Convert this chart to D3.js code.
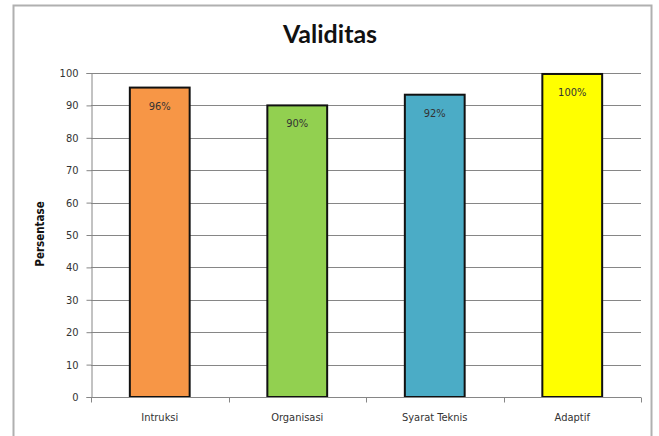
<!DOCTYPE html>
<html><head><meta charset="utf-8">
<script src="https://cdn.jsdelivr.net/npm/d3@7"></script>
<style>body{margin:0;background:#fff}svg{display:block}</style>
</head><body>
<script>
const categories = ["Intruksi", "Organisasi", "Syarat Teknis", "Adaptif"];
const values = [95.5, 90, 93.3, 99.7];
const valueLabels = ["96%", "90%", "92%", "100%"];
const yTicks = [0, 10, 20, 30, 40, 50, 60, 70, 80, 90, 100];
const colors = ["#F79646", "#92D050", "#4BACC6", "#FFFF00"];

const W = 659, H = 436;
const svg = d3.select("body").append("svg").attr("width", W).attr("height", H);
svg.append("rect").attr("x", 13.5).attr("y", 5.5).attr("width", 638).attr("height", 440)
  .attr("fill", "#fff").attr("stroke", "#b0b0b0").attr("stroke-width", 2);

const m = {left: 91, right: 641, top: 73, bottom: 397};
const x = d3.scaleBand().domain(categories).range([m.left, m.right]).paddingInner(0.565).paddingOuter(0.2825);
const xb = d3.scaleBand().domain(categories).range([m.left, m.right]);
const y = d3.scaleLinear().domain([0, 100]).range([m.bottom, m.top]);

// gridlines
svg.append("g").selectAll("line").data(yTicks.filter(d => d > 0)).join("line")
  .attr("x1", m.left).attr("x2", m.right)
  .attr("y1", d => Math.round(y(d)) + 0.5).attr("y2", d => Math.round(y(d)) + 0.5)
  .attr("stroke", "#868686").attr("stroke-width", 1);

// y axis
const ya = svg.append("g").attr("transform", `translate(${m.left + 0.5},0)`)
  .call(d3.axisLeft(y).tickValues(yTicks).tickSize(5).tickPadding(8));
ya.select(".domain").attr("stroke", "#868686");
ya.selectAll(".tick line").attr("stroke", "#868686");
ya.selectAll(".tick text").attr("font-family", "DejaVu Sans Condensed, DejaVu Sans").attr("font-size", 11).attr("fill", "#333");

// bars
svg.append("g").selectAll("rect").data(values).join("rect")
  .attr("x", (d, i) => x(categories[i]))
  .attr("y", d => y(d))
  .attr("width", x.bandwidth())
  .attr("height", d => y(0) - y(d))
  .attr("fill", (d, i) => colors[i])
  .attr("stroke", "#111").attr("stroke-width", 2);

// value labels
svg.append("g").selectAll("text").data(values).join("text")
  .attr("x", (d, i) => x(categories[i]) + x.bandwidth() / 2)
  .attr("y", d => y(d) + 22)
  .attr("text-anchor", "middle")
  .attr("font-family", "DejaVu Sans Condensed, DejaVu Sans").attr("font-size", 11)
  .attr("fill", "#333")
  .text((d, i) => valueLabels[i]);

// x axis
const xa = svg.append("g").attr("transform", `translate(0,${m.bottom + 0.5})`);
xa.append("line").attr("x1", m.left).attr("x2", m.right).attr("stroke", "#868686");
const bounds = categories.map(c => xb(c)).concat([m.right]);
xa.selectAll(".tk").data(bounds).join("line").attr("class", "tk")
  .attr("x1", d => Math.round(d) + 0.5).attr("x2", d => Math.round(d) + 0.5)
  .attr("y1", 0).attr("y2", 5).attr("stroke", "#868686");
xa.selectAll("text").data(categories).join("text")
  .attr("x", d => x(d) + x.bandwidth() / 2).attr("y", 23)
  .attr("text-anchor", "middle")
  .attr("font-family", "DejaVu Sans Condensed, DejaVu Sans").attr("font-size", 11)
  .attr("fill", "#333").text(d => d);

// title
svg.append("text").attr("x", 330).attr("y", 43).attr("text-anchor", "middle")
  .attr("font-family", "Lato, Open Sans, sans-serif").attr("font-weight", "bold").attr("font-size", 25)
  .attr("fill", "#111").text("Validitas");

// y axis title
svg.append("text").attr("transform", `translate(44,234) rotate(-90)`)
  .attr("text-anchor", "middle")
  .attr("font-family", "DejaVu Sans Condensed, DejaVu Sans").attr("font-weight", "bold").attr("font-size", 11.5)
  .attr("fill", "#111").text("Persentase");
</script>
</body></html>
